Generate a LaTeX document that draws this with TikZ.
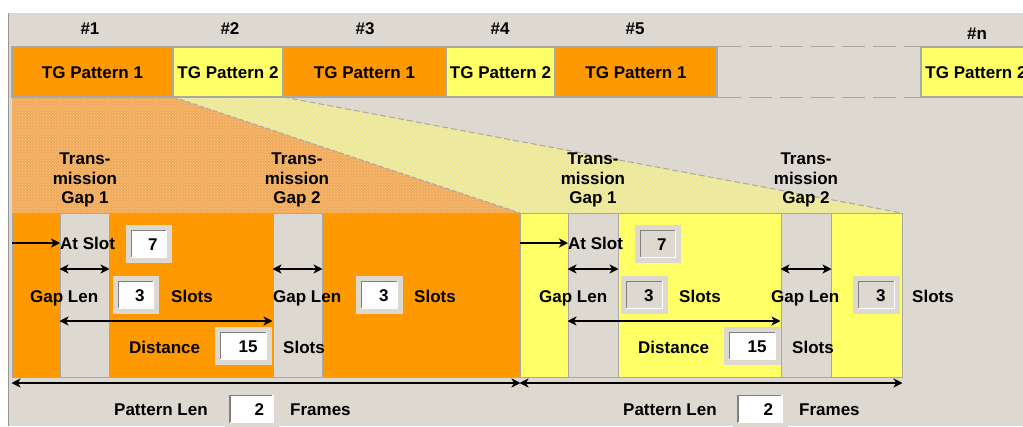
\documentclass[tikz,border=0pt]{standalone}
\usepackage{fontspec}
\setmainfont{Liberation Sans}
\usetikzlibrary{arrows.meta,patterns}
\definecolor{bg}{RGB}{221,216,208}
\definecolor{tgorange}{RGB}{255,153,0}
\definecolor{tgyellow}{RGB}{255,255,102}
\definecolor{edge}{RGB}{168,168,168}
\definecolor{leftline}{RGB}{150,150,150}
\definecolor{ohatch}{RGB}{242,170,88}
\definecolor{ohatchdot}{RGB}{238,206,162}
\definecolor{yhatch}{RGB}{240,236,150}
\definecolor{yhatchdot}{RGB}{226,222,198}
\definecolor{sunk}{RGB}{128,128,128}
\newcommand\tgfont{\fontsize{17}{19.5}\selectfont\bfseries}
\newcommand\tgfield[6]{%
  \node[frame, minimum width=#4] (#1o) at (#2,#3) {};
  \node[field, minimum width=#4-11pt, fill=#6] (#1) at (#2,#3) {};
  \draw[sunk, line width=1.5pt] (#1.south west) -- (#1.north west) -- (#1.north east);
  \draw[white, line width=1.5pt] (#1.north east) -- (#1.south east) -- (#1.south west);
  \node[lbl, anchor=east] (#1n) at ([xshift=-9pt]#1.east) {#5};}
\begin{document}
\begin{tikzpicture}[x=1pt,y=-1pt,
  lbl/.style={font=\tgfont, inner sep=0pt, text height=12pt, text depth=0pt},
  tgbox/.style={draw=edge, line width=1.2pt, minimum height=50pt, inner sep=0pt, font=\tgfont, text height=12pt, text depth=0pt},
  bar/.style={draw=edge, line width=1pt, minimum height=164pt, inner sep=0pt},
  frame/.style={fill=bg, minimum height=38pt, inner sep=0pt},
  field/.style={minimum height=27pt, inner sep=0pt},
  arr/.style={line width=1.4pt, -{Stealth[length=9pt,width=9pt,inset=2.5pt]}},
  darr/.style={line width=1.4pt, {Stealth[length=9pt,width=9pt,inset=2.5pt]}-{Stealth[length=9pt,width=9pt,inset=2.5pt]}},
  gaptext/.style={font=\tgfont, align=center, inner sep=0pt},
]
\useasboundingbox (0,0) rectangle (1023,426);
\clip (0,0) rectangle (1023,426);
\fill[white] (0,0) rectangle (1023,426);
\fill[bg] (9,13) rectangle (1023,426);
\draw[leftline, line width=1pt] (8.5,13) -- (8.5,426);

% hatched zoom regions
\fill[ohatch] (12,97) -- (173,97) -- (520,213) -- (12,213) -- cycle;
\fill[pattern=crosshatch dots, pattern color=ohatchdot] (12,97) -- (173,97) -- (520,213) -- (12,213) -- cycle;
\fill[yhatch] (173,97) -- (283,97) -- (902,213) -- (520,213) -- cycle;
\fill[pattern=crosshatch dots, pattern color=yhatchdot] (173,97) -- (283,97) -- (902,213) -- (520,213) -- cycle;
\draw[edge, line width=1pt, dash pattern=on 5pt off 2pt] (173,97) -- (520,213);
\draw[edge, line width=1pt, dash pattern=on 6pt off 3pt] (283,97) -- (902,213);

% header labels
\node[lbl] (h1) at (90,28) {\#1};
\node[lbl] (h2) at (230,28) {\#2};
\node[lbl] (h3) at (365,28) {\#3};
\node[lbl] (h4) at (500,28) {\#4};
\node[lbl] (h5) at (635,28) {\#5};
\node[lbl] (hn) at (977,33) {\#n};

% top pattern boxes
\node[tgbox, fill=tgorange, minimum width=161pt] (p1) at (92.5,72) {TG Pattern 1};
\node[tgbox, fill=tgyellow, minimum width=110pt] (p2) at (228,72) {TG Pattern 2};
\node[tgbox, fill=tgorange, minimum width=163pt] (p3) at (364.5,72) {TG Pattern 1};
\node[tgbox, fill=tgyellow, minimum width=109pt] (p4) at (500.5,72) {TG Pattern 2};
\node[tgbox, fill=tgorange, minimum width=162pt] (p5) at (636,72) {TG Pattern 1};
\node[tgbox, fill=tgyellow, minimum width=110pt] (pn) at (976,72) {TG Pattern 2};
\draw[edge, line width=1.2pt, dash pattern=on 23pt off 8pt] (p5.north east) -- (pn.north west);
\draw[edge, line width=1.2pt, dash pattern=on 23pt off 8pt] (p5.south east) -- (pn.south west);

% bottom bars, pattern 1
\node[bar, fill=tgorange, minimum width=48pt] (a1) at (36,295) {};
\node[bar, fill=bg, minimum width=49pt] (g1) at (84.5,295) {};
\node[bar, fill=tgorange, minimum width=164pt] (a2) at (191,295) {};
\node[bar, fill=bg, minimum width=49pt] (g2) at (297.5,295) {};
\node[bar, fill=tgorange, minimum width=198pt] (a3) at (421,295) {};
% bottom bars, pattern 2
\node[bar, fill=tgyellow, minimum width=48pt] (b1) at (544,295) {};
\node[bar, fill=bg, minimum width=50pt] (k1) at (593,295) {};
\node[bar, fill=tgyellow, minimum width=163pt] (b2) at (699.5,295) {};
\node[bar, fill=bg, minimum width=50pt] (k2) at (806,295) {};
\node[bar, fill=tgyellow, minimum width=71pt] (b3) at (866.5,295) {};

% gap titles
\node[gaptext] (t1) at (85,180) {Trans-\\mission\\Gap 1};
\node[gaptext] (t2) at (297,180) {Trans-\\mission\\Gap 2};
\node[gaptext] (t3) at (593,180) {Trans-\\mission\\Gap 1};
\node[gaptext] (t4) at (806,180) {Trans-\\mission\\Gap 2};

% coordinates for arrow rows
\coordinate (yas) at (0,243);
\coordinate (ygl) at (0,269);
\coordinate (yds) at (0,321);
\coordinate (ypl) at (0,383);

% ---- pattern 1 controls
\node[lbl, anchor=west] (as1) at (60,243) {At Slot};
\tgfield{f1}{149}{244}{46pt}{7}{white}
\node[lbl, anchor=west] (gl1) at (30,296) {Gap Len};
\tgfield{f2}{136}{295}{46pt}{3}{white}
\node[lbl, anchor=west] (sl1) at (171,296) {Slots};
\node[lbl, anchor=west] (gl2) at (273,296) {Gap Len};
\tgfield{f3}{379.5}{295}{47pt}{3}{white}
\node[lbl, anchor=west] (sl2) at (414,296) {Slots};
\node[lbl, anchor=west] (ds1) at (129,347) {Distance};
\tgfield{f4}{243.5}{346}{57pt}{15}{white}
\node[lbl, anchor=west] (sl3) at (283,347) {Slots};
\node[lbl, anchor=west] (pl1) at (114,409) {Pattern Len};
\tgfield{f5}{251.5}{409}{54pt}{2}{white}
\node[lbl, anchor=west] (fr1) at (290,409) {Frames};

\draw[arr] (a1.west |- yas) -- (as1.west);
\draw[darr] (g1.west |- ygl) -- (g1.east |- ygl);
\draw[darr] (g2.west |- ygl) -- (g2.east |- ygl);
\draw[darr] (g1.west |- yds) -- (g2.west |- yds);
\draw[darr] (a1.west |- ypl) -- (a3.east |- ypl);

% ---- pattern 2 controls
\node[lbl, anchor=west] (as2) at (568,243) {At Slot};
\tgfield{f6}{658}{244}{46pt}{7}{bg}
\node[lbl, anchor=west] (gl3) at (539,296) {Gap Len};
\tgfield{f7}{644.5}{295}{47pt}{3}{bg}
\node[lbl, anchor=west] (sl4) at (679,296) {Slots};
\node[lbl, anchor=west] (gl4) at (771,296) {Gap Len};
\tgfield{f8}{876.5}{295}{47pt}{3}{bg}
\node[lbl, anchor=west] (sl5) at (912,296) {Slots};
\node[lbl, anchor=west] (ds2) at (638,347) {Distance};
\tgfield{f9}{752.5}{346}{57pt}{15}{white}
\node[lbl, anchor=west] (sl6) at (792,347) {Slots};
\node[lbl, anchor=west] (pl2) at (623,409) {Pattern Len};
\tgfield{f10}{760}{409}{55pt}{2}{white}
\node[lbl, anchor=west] (fr2) at (799,409) {Frames};

\draw[arr] (b1.west |- yas) -- (as2.west);
\draw[darr] (k1.west |- ygl) -- (k1.east |- ygl);
\draw[darr] (k2.west |- ygl) -- (k2.east |- ygl);
\draw[darr] (k1.west |- yds) -- (k2.west |- yds);
\draw[darr] (b1.west |- ypl) -- (b3.east |- ypl);
\end{tikzpicture}
\end{document}
